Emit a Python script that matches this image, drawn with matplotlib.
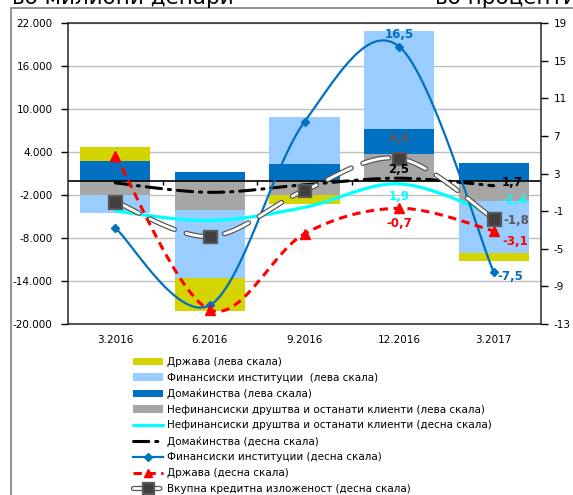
import numpy as np
import matplotlib
matplotlib.use("Agg")
import matplotlib.pyplot as plt
from matplotlib.ticker import FuncFormatter, FixedLocator
import matplotlib.patheffects as pe
from matplotlib.patches import Rectangle

plt.rcParams['font.family'] = ['DejaVu Sans']
plt.rcParams['lines.scale_dashes'] = False
plt.rcParams['axes.unicode_minus'] = False

# ---------------- data ----------------
categories = ["3.2016", "6.2016", "9.2016", "12.2016", "3.2017"]

# bars, left scale (million denars)
bar_gov = [1950, -4560, -1210, -220, -1030]
bar_fin = [-2470, -9530, 6600, 13720, -7300]
bar_hh = [2750, 1260, 2330, 3530, 2430]
bar_nonfin = [-2000, -4090, -2000, 3680, -2830]

# lines, right scale (percent)
line_nonfin = [-1.0, -2.0, -0.6, 1.9, -1.4]
line_hh = [2.0, 1.0, 1.8, 2.5, 1.7]
line_fin = [-2.8, -11.0, 8.5, 16.5, -7.5]
line_gov = [4.9, -11.5, -3.4, -0.7, -3.1]
line_total = [0.0, -3.7, 1.2, 4.6, -1.8]

left_ticks = [-20000, -14000, -8000, -2000, 4000, 10000, 16000, 22000]
right_ticks = [-13, -9, -5, -1, 3, 7, 11, 15, 19]

labels_bar = ["Држава (лева скала)",
              "Финансиски институции  (лева скала)",
              "Домаќинства (лева скала)",
              "Нефинансиски друштва и останати клиенти (лева скала)"]
labels_line = ["Нефинансиски друштва и останати клиенти (десна скала)",
               "Домаќинства (десна скала)",
               "Финансиски институции (десна скала)",
               "Држава (десна скала)",
               "Вкупна кредитна изложеност (десна скала)"]

C_YEL = "#d4d400"
C_LBLUE = "#99ccff"
C_DBLUE = "#0070c0"
C_GRAY = "#a6a6a6"
C_CYAN = "#00ffff"
C_RED = "#ff0000"
C_DGRAY = "#595959"

FS = 7.5


def smooth(xs, ys, n=30):
    P = np.column_stack([np.asarray(xs, float), np.asarray(ys, float)])
    m = len(P)
    out = []
    for i in range(m - 1):
        p0 = P[max(i - 1, 0)]
        p1 = P[i]
        p2 = P[i + 1]
        p3 = P[min(i + 2, m - 1)]
        c1 = p1 + (p2 - p0) / 6.0
        c2 = p2 - (p3 - p1) / 6.0
        t = np.linspace(0, 1, n + 1 if i == m - 2 else n, endpoint=(i == m - 2))[:, None]
        seg = ((1 - t) ** 3) * p1 + 3 * ((1 - t) ** 2) * t * c1 + 3 * (1 - t) * t ** 2 * c2 + t ** 3 * p2
        out.append(seg)
    out = np.vstack(out)
    return out[:, 0], out[:, 1], [k * n for k in range(m)]


W, H = 573, 495
fig = plt.figure(figsize=(W / 100, H / 100), dpi=100)

# outer frame (partially visible)
fig.patches.append(Rectangle((11 / W, -0.2), 1.5, 1.2 - 8 / H, transform=fig.transFigure,
                             fill=False, edgecolor="#7f7f7f", lw=1.2, zorder=0))
fig.text(12 / W, 1 - 4 / H, "во милиони денари", fontsize=15.5, va="baseline", ha="left")
fig.text(435 / W, 1 - 4 / H, "во проценти", fontsize=15.5, va="baseline", ha="left")

L, R, T, B = 68, 541, 23, 324
ax = fig.add_axes([L / W, 1 - B / H, (R - L) / W, (B - T) / H])
x = np.arange(len(categories))

# stacked bars: order from zero outward
stack = [(bar_nonfin, C_GRAY), (bar_hh, C_DBLUE), (bar_fin, C_LBLUE), (bar_gov, C_YEL)]
pos_b = np.zeros(len(x))
neg_b = np.zeros(len(x))
bar_handles = {}
for vals, col in stack:
    v = np.asarray(vals, float)
    bottoms = np.where(v >= 0, pos_b, neg_b)
    h = ax.bar(x, v, bottom=bottoms, width=0.74, color=col, edgecolor="none", zorder=1)
    bar_handles[col] = h
    pos_b = pos_b + np.where(v >= 0, v, 0)
    neg_b = neg_b + np.where(v < 0, v, 0)

ax.set_xlim(-0.5, len(categories) - 0.5)
ax.set_ylim(left_ticks[0], left_ticks[-1])
ax.yaxis.set_major_locator(FixedLocator(left_ticks))
ax.yaxis.set_major_formatter(FuncFormatter(lambda v, p: f"{int(v):,}".replace(",", ".")))
ax.set_axisbelow(True)
ax.yaxis.grid(True, color="#bfbfbf", lw=1.0)
ax.set_xticks(x)
ax.set_xticklabels(categories)
ax.tick_params(axis="x", length=0, pad=8, labelsize=FS)
ax.tick_params(axis="y", direction="out", length=5, width=1, pad=6, labelsize=FS)
for s in ax.spines.values():
    s.set_color("#262626")
    s.set_linewidth(1.1)

# zero line with inter-category ticks
ax.axhline(0, color="black", lw=1.2, zorder=2.5)
sec = ax.secondary_xaxis(-left_ticks[0] / (left_ticks[-1] - left_ticks[0]))
sec.set_xticks([0.5, 1.5, 2.5, 3.5])
sec.set_xticklabels([])
sec.tick_params(direction="out", length=3, width=1, color="black")
sec.spines["bottom"].set_visible(False)
sec.set_zorder(2.5)

ax2 = ax.twinx()
ax2.set_ylim(right_ticks[0], right_ticks[-1])
ax2.yaxis.set_major_locator(FixedLocator(right_ticks))
ax2.tick_params(axis="y", direction="out", length=5, width=1, pad=4, labelsize=FS)
for s in ax2.spines.values():
    s.set_visible(False)

# lines
sx, sy, mk = smooth(x, line_nonfin)
l_nonfin, = ax2.plot(sx, sy, color=C_CYAN, lw=2.3, solid_capstyle="round")
sx, sy, mk = smooth(x, line_hh)
l_hh, = ax2.plot(sx, sy, color="black", lw=2.2, dashes=(11, 5, 1.5, 5), dash_capstyle="round")
sx, sy, mk = smooth(x, line_fin)
l_fin, = ax2.plot(sx, sy, color=C_DBLUE, lw=1.6, marker="D", markersize=4.5, markevery=mk)
sx, sy, mk = smooth(x, line_gov)
l_gov, = ax2.plot(sx, sy, color=C_RED, lw=2.2, dashes=(6, 4), marker="^", markersize=7,
                  markevery=mk)
sx, sy, mk = smooth(x, line_total)
l_total, = ax2.plot(sx, sy, color="white", lw=2.0, dashes=(19, 9), dash_capstyle="round",
                    marker="s", markersize=7, markerfacecolor="#404040", markeredgecolor="#404040",
                    markevery=mk,
                    path_effects=[pe.Stroke(linewidth=3.8, foreground="#595959"), pe.Normal()])

# data labels
def fmt(v):
    return f"{v:.1f}".replace(".", ",")

lab = dict(fontsize=8.5, fontweight="bold", textcoords="offset points", va="center")
i = 3
ax2.annotate(fmt(line_fin[i]), (x[i], line_fin[i]), xytext=(0, 8.6), ha="center", color=C_DBLUE, **lab)
ax2.annotate(fmt(line_total[i]), (x[i], line_total[i]), xytext=(0, 14.4), ha="center", color=C_DGRAY, **lab)
ax2.annotate(fmt(line_hh[i]), (x[i], line_hh[i]), xytext=(0, 6.5), ha="center", color="black", **lab)
ax2.annotate(fmt(line_nonfin[i]), (x[i], line_nonfin[i]), xytext=(0, -9.4), ha="center", color=C_CYAN, **lab)
ax2.annotate(fmt(line_gov[i]), (x[i], line_gov[i]), xytext=(0, -10.8), ha="center", color=C_RED, **lab)
i = 4
ax2.annotate(fmt(line_hh[i]), (x[i], line_hh[i]), xytext=(5.8, 2), ha="left", color="black", **lab)
ax2.annotate(fmt(line_nonfin[i]), (x[i], line_nonfin[i]), xytext=(5.8, 10), ha="left", color=C_CYAN, **lab)
ax2.annotate(fmt(line_total[i]), (x[i], line_total[i]), xytext=(7, -1), ha="left", color=C_DGRAY, **lab)
ax2.annotate(fmt(line_gov[i]), (x[i], line_gov[i]), xytext=(6.5, -8), ha="left", color=C_RED, **lab)
ax2.annotate(fmt(line_fin[i]), (x[i], line_fin[i]), xytext=(3, -3), ha="left", color=C_DBLUE, **lab)

handles = [bar_handles[C_YEL], bar_handles[C_LBLUE], bar_handles[C_DBLUE], bar_handles[C_GRAY],
           l_nonfin, l_hh, l_fin, l_gov, l_total]
labels = labels_bar + labels_line
fig.legend(handles, labels, loc="upper left", bbox_to_anchor=(133 / W, 1 - 357 / H),
           frameon=False, fontsize=FS, borderpad=0, borderaxespad=0, handlelength=2.9,
           handletextpad=0.4, labelspacing=0.55, markerscale=0.8)

fig.savefig("out.png", dpi=100)
